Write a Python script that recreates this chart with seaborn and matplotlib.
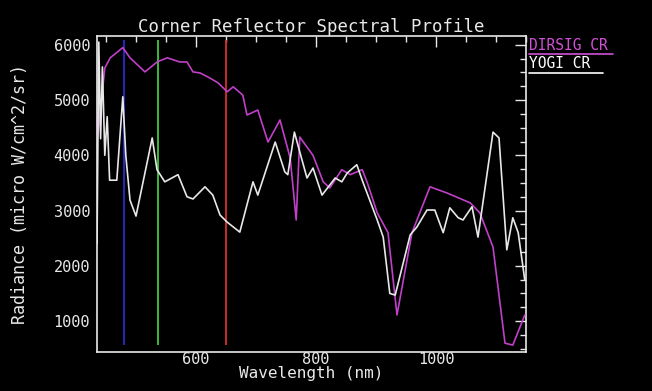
import matplotlib
matplotlib.use("Agg")
import matplotlib.pyplot as plt
import seaborn as sns
import pandas as pd
from matplotlib.lines import Line2D
from matplotlib.ticker import MultipleLocator

# ---- data ----
dirsig_wl = [435, 437, 448, 457, 478, 490, 515, 535, 552, 573, 585, 595, 607, 623, 637,
             652, 662, 678, 685, 703, 720, 740, 757, 767, 773, 795, 812, 823, 843, 857,
             877, 885, 902, 920, 935, 960, 990, 1018, 1057, 1073, 1095, 1115, 1128, 1148]
dirsig_rad = [4300, 4420, 5580, 5765, 5950, 5765, 5510, 5690, 5765, 5690, 5690, 5510, 5490, 5400, 5310,
              5150, 5240, 5090, 4730, 4820, 4240, 4640, 3950, 2830, 4330, 4000, 3520, 3410, 3740, 3650,
              3740, 3520, 2960, 2600, 1110, 2600, 3430, 3320, 3140, 2960, 2340, 600, 565, 1110]

yogi_wl = [435, 438, 441, 444, 448, 452, 456, 468, 478, 483, 490, 500, 527, 535, 548, 570,
           585, 595, 615, 628, 640, 652, 673, 695, 703, 732, 748, 753, 764, 773, 785, 795,
           810, 832, 843, 852, 868, 877, 902, 912, 923, 932, 957, 968, 985, 998, 1012, 1023,
           1037, 1045, 1060, 1070, 1095, 1105, 1118, 1128, 1137, 1148]
yogi_rad = [2400, 6050, 4300, 5600, 4000, 4700, 3550, 3550, 5060, 4000, 3190, 2900, 4315, 3740, 3520, 3650,
            3250, 3210, 3430, 3280, 2920, 2790, 2610, 3520, 3280, 4240, 3700, 3650, 4420, 4060, 3590, 3770,
            3280, 3590, 3520, 3680, 3830, 3550, 2830, 2520, 1500, 1470, 2560, 2700, 3010, 3010, 2600, 3050,
            2870, 2830, 3070, 2520, 4420, 4315, 2290, 2870, 2600, 1740]

band_wl = [480, 537, 650]
band_colors = ["#2a2ad0", "#40c840", "#d83030"]
band_ymin, band_ymax = 560, 6080

series_names = ["DIRSIG CR", "YOGI CR"]
series_colors = ["#c040c8", "#e8e8e8"]

title = "Corner Reflector Spectral Profile"
xlabel = "Wavelength (nm)"
ylabel = "Radiance (micro W/cm^2/sr)"
xticks = [600, 800, 1000]
yticks = [1000, 2000, 3000, 4000, 5000, 6000]

# ---- styling ----
sns.set_style("dark", {"axes.facecolor": "black", "figure.facecolor": "black"})
plt.rcParams["font.family"] = ["DejaVu Sans Mono"]
fg = "#e8e8e8"

df = pd.concat([
    pd.DataFrame({"wl": dirsig_wl, "rad": dirsig_rad, "series": series_names[0]}),
    pd.DataFrame({"wl": yogi_wl, "rad": yogi_rad, "series": series_names[1]}),
])

fig = plt.figure(figsize=(6.52, 3.91), dpi=100, facecolor="black")
ax = fig.add_axes([97 / 652, 1 - 352 / 391, (526 - 97) / 652, (352 - 36) / 391])
ax.set_facecolor("black")

for x, c in zip(band_wl, band_colors):
    ax.vlines(x, band_ymin, band_ymax, colors=c, linewidth=1.3, zorder=1)

sns.lineplot(data=df, x="wl", y="rad", hue="series", palette=dict(zip(series_names, series_colors)),
             estimator=None, sort=False, linewidth=1.2, legend=False, ax=ax, zorder=3)

ax.set_xlim(435, 1150)
ax.set_ylim(440, 6160)
ax.set_xticks(xticks)
ax.set_yticks(yticks)
ax.xaxis.set_minor_locator(MultipleLocator(50))
ax.yaxis.set_minor_locator(MultipleLocator(250))
ax.tick_params(which="both", direction="in", top=True, right=True, colors=fg, labelcolor=fg,
               labelsize=11, width=1)
ax.tick_params(which="major", length=8)
ax.tick_params(which="minor", length=4)
ax.tick_params(axis="x", pad=0)
ax.tick_params(axis="y", pad=5)
for s in ax.spines.values():
    s.set_color(fg)
    s.set_linewidth(1.2)
ax.grid(False)

ax.set_xlabel(xlabel, color=fg, fontsize=11.5, labelpad=-1)
ax.set_ylabel(ylabel, color=fg, fontsize=12, labelpad=18)
ax.set_title(title, color=fg, fontsize=12.5, pad=3)

# legend as underlined labels at the right
leg_y = [1 - 45 / 391, 1 - 64 / 391]
for name, col, y in zip(series_names, series_colors, leg_y):
    txt_col = "#d050d8" if col == series_colors[0] else "#ffffff"
    fig.text(529 / 652, y, name, color=txt_col, fontsize=10.5, va="center", ha="left")
    ul = y - 9 / 391
    w = 84 if col == series_colors[0] else 74
    fig.add_artist(Line2D([529 / 652, (529 + w) / 652], [ul, ul], color=txt_col, linewidth=1.2,
                          transform=fig.transFigure))

fig.savefig("out.png", dpi=100, facecolor="black")
